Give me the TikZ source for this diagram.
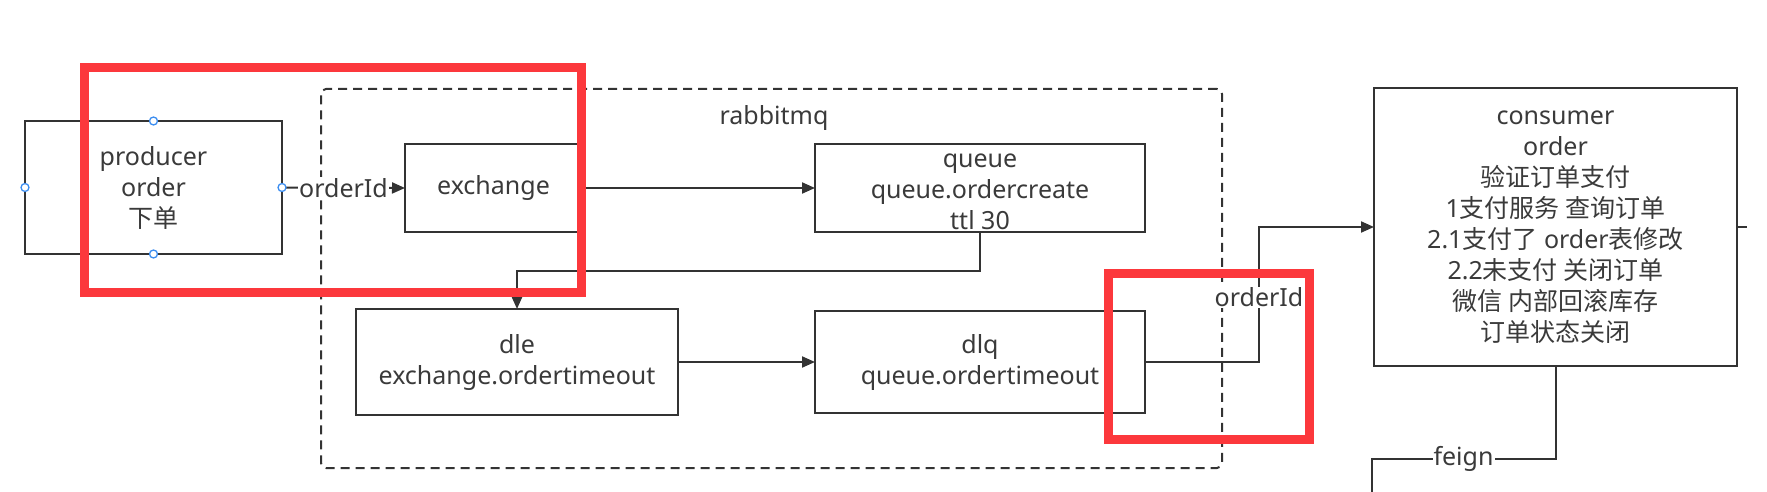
\documentclass[tikz,border=0pt]{standalone}
\usepackage{fontspec}
\setmainfont{Noto Sans}
\newfontfamily\cjk{Noto Sans CJK SC}
\usetikzlibrary{arrows.meta}
\definecolor{ln}{HTML}{333333}
\definecolor{txt}{HTML}{3A3A3A}
\definecolor{redbox}{HTML}{FC383C}
\definecolor{handle}{HTML}{3D8EF0}
\begin{document}
\begin{tikzpicture}[x=1pt,y=-1pt,
  every node/.style={font=\fontsize{25}{31}\selectfont, text=txt},
  box/.style={draw=ln, line width=2pt, inner sep=0pt, outer sep=0pt, align=center},
  arr/.style={draw=ln, line width=2pt, -{Triangle[length=13pt,width=11pt]}},
  conn/.style={draw=ln, line width=2pt},
  lbl/.style={fill=white, inner sep=1pt},
  handlept/.style={circle, draw=handle, fill=white, line width=1.3pt, minimum size=8pt, inner sep=0pt},
  redrect/.style={draw=redbox, line width=9pt, inner sep=0pt, outer sep=0pt},
  mqbox/.style={draw=ln, line width=2pt, dash pattern=on 9pt off 6pt, rounded corners=5pt, inner sep=0pt}]
\useasboundingbox (0,0) rectangle (1767,492);

% rabbitmq group
\node[mqbox, minimum width=901, minimum height=379] (mq) at (771.5,278.5) {};
\node (mqlbl) at (774,118) {rabbitmq};

% boxes
\node[box, minimum width=257, minimum height=133] (prod) at (153.5,187.5) {producer\\order\\{\cjk 下单}};
\node[box, minimum width=177, minimum height=88] (exch) at (493.5,188) {exchange};
\node[box, minimum width=330, minimum height=88] (queue) at (980,188) {};
\node[align=center, inner sep=0pt] (qtxt) at (980,192) {queue\\queue.ordercreate\\ttl 30};
\node[box, minimum width=322, minimum height=106] (dle) at (517,362) {dle\\exchange.ordertimeout};
\node[box, minimum width=330, minimum height=102] (dlq) at (980,362) {dlq\\queue.ordertimeout};
\node[box, minimum width=363, minimum height=278] (cons) at (1555.5,227)
  {consumer\\order\\{\cjk 验证订单支付}\\1{\cjk 支付服务 查询订单}\\2.1{\cjk 支付了} order{\cjk 表修改}\\2.2{\cjk 未支付 关闭订单}\\{\cjk 微信 内部回滚库存}\\{\cjk 订单状态关闭}};

% connectors
\draw[arr] (prod.east) -- node[lbl] (l1) {orderId} (exch.west);
\draw[arr] (exch.east) -- (queue.west);
\draw[arr] (queue.south) -- ++(0,39) -| (dle.north);
\draw[arr] (dle.east) -- (dlq.west);
\draw[arr] (dlq.east) -- ++(114,0) -- node[lbl, pos=0.48] (l2) {orderId} ++(0,-135) -- (cons.west);
\draw[conn] (cons.east) -- ++(10,0);
\draw[conn] (cons.south) -- ++(0,93) -- node[lbl] (l3) {feign} ++(-184,0) -- ++(0,40);

% selection handles
\node[handlept] (h1) at (prod.north) {};
\node[handlept] (h2) at (prod.south) {};
\node[handlept] (h3) at (prod.west) {};
\node[handlept] (h4) at (prod.east) {};

% red highlight boxes
\node[redrect, minimum width=497, minimum height=224] (r1) at (332.5,180) {};
\node[redrect, minimum width=201, minimum height=166] (r2) at (1208.5,356) {};
\end{tikzpicture}
\end{document}
